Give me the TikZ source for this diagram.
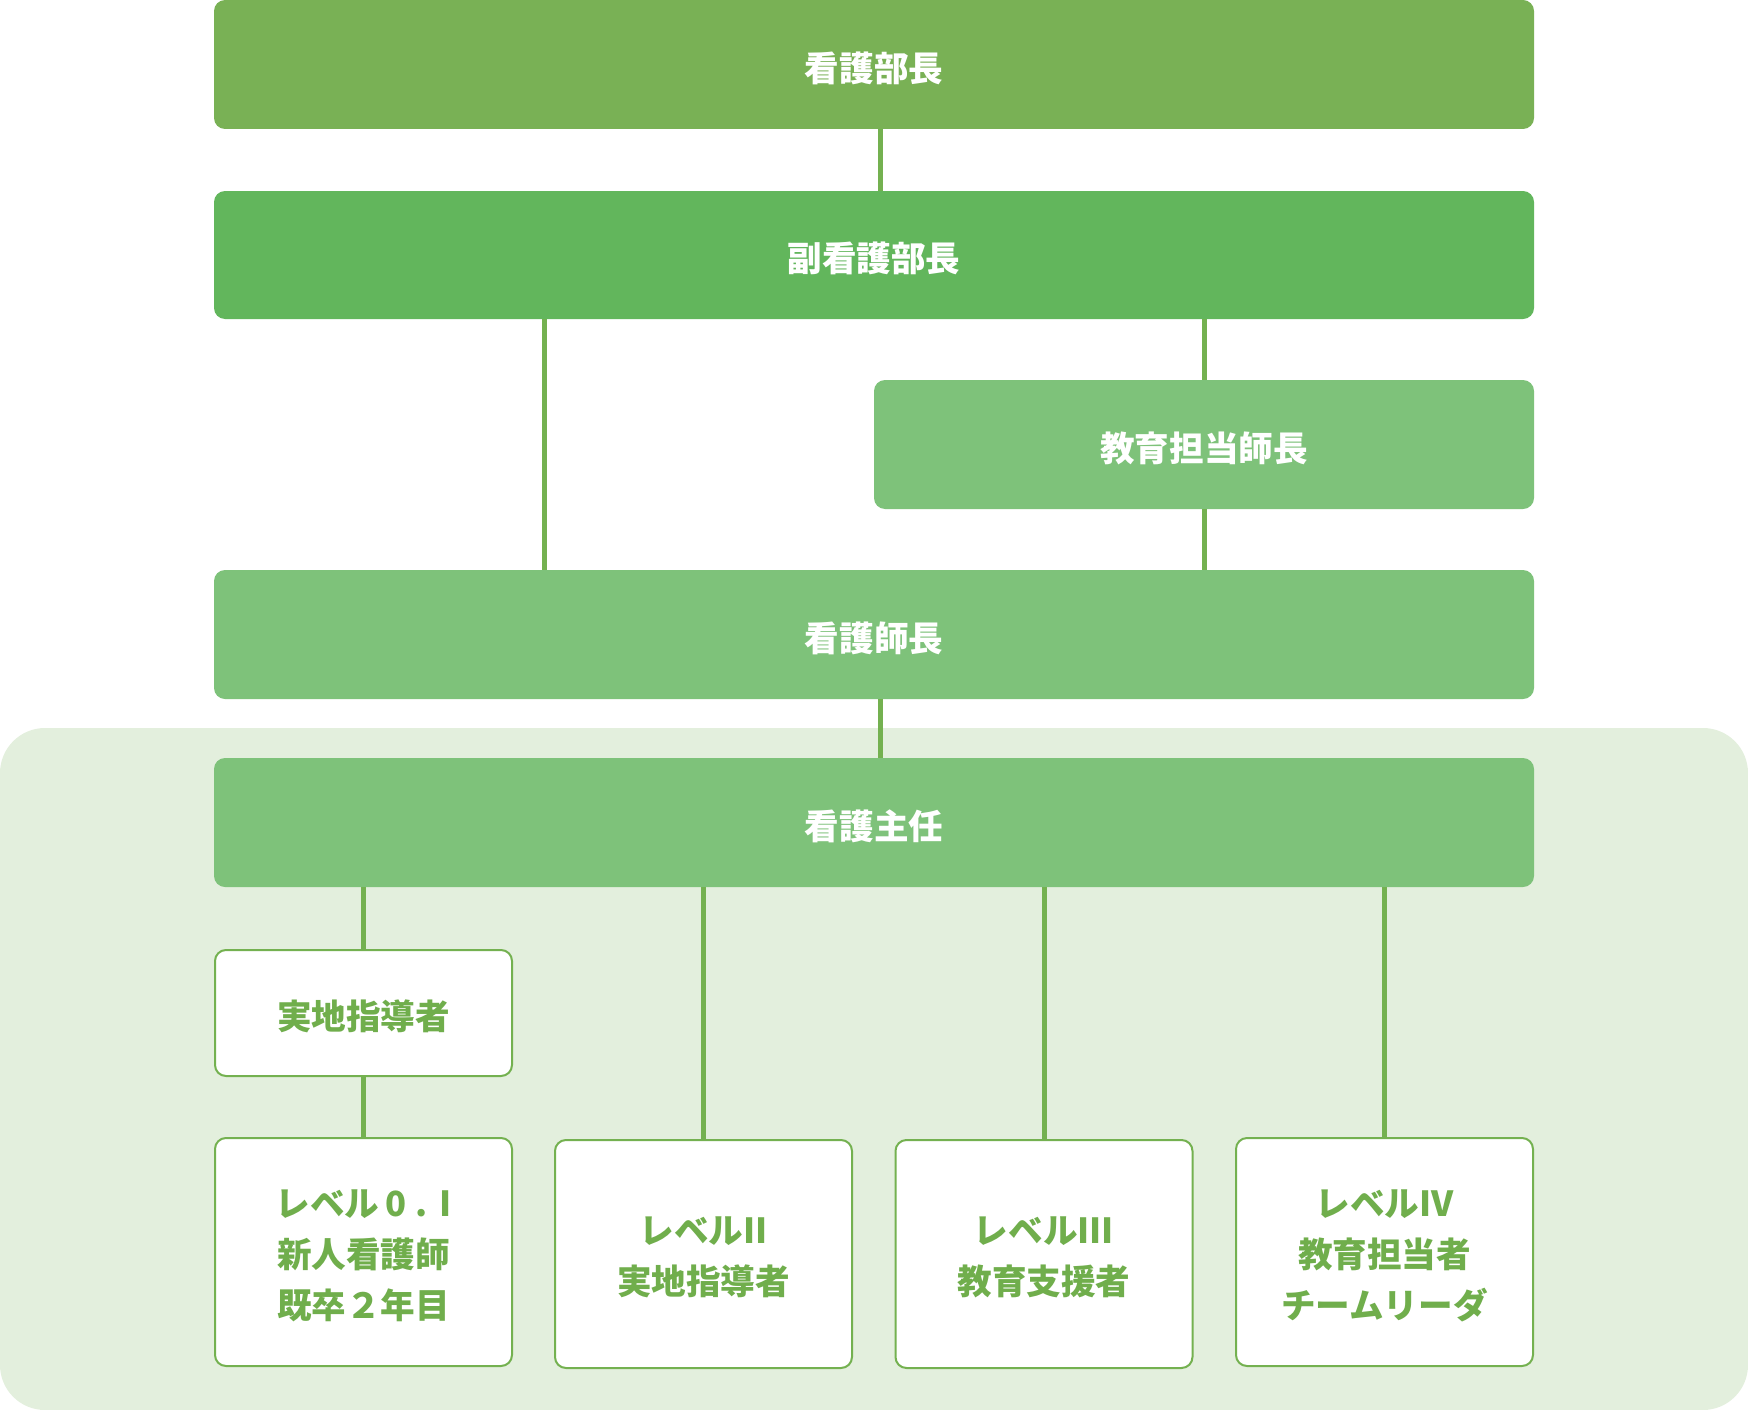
\documentclass[tikz,border=0pt]{standalone}
\usepackage{fontspec}
\newfontfamily\jp{Noto Sans CJK JP}
\newcommand{\lw}[1]{\raisebox{-3.5pt}[\height][\depth]{#1}}
\definecolor{cA}{HTML}{79B155}
\definecolor{cB}{HTML}{62B65C}
\definecolor{cC}{HTML}{7EC27A}
\definecolor{lineg}{HTML}{74B150}
\definecolor{txtg}{HTML}{70AE4C}
\definecolor{panel}{HTML}{E3EFDD}
\tikzset{
  solidbox/.style={rounded corners=11pt, inner sep=0pt, text=white,
    font=\jp\bfseries\fontsize{34.6}{51}\selectfont, minimum height=129pt},
  whitebox/.style={rounded corners=11pt, inner sep=0pt, fill=white, draw=lineg,
    line width=2pt, text=txtg, align=center,
    font=\jp\bfseries\fontsize{34.6}{51}\selectfont, minimum width=297pt},
  conn/.style={draw=lineg, line width=5pt}
}
\begin{document}
\begin{tikzpicture}[x=1pt,y=-1pt]
\useasboundingbox (0,0) rectangle (1748,1410);
\fill[panel, rounded corners=45pt] (0,728) rectangle (1748,1410);
\node[solidbox, fill=cA, minimum width=1320pt] (A) at (874,64.5) {\lw{看護部長}};
\node[solidbox, fill=cB, minimum width=1320pt, minimum height=128pt] (B) at (874,255) {\lw{副看護部長}};
\node[solidbox, fill=cC, minimum width=660pt] (C) at (1204,444.5) {\lw{教育担当師長}};
\node[solidbox, fill=cC, minimum width=1320pt] (D) at (874,634.5) {\lw{看護師長}};
\node[solidbox, fill=cC, minimum width=1320pt] (E) at (874,822.5) {\lw{看護主任}};
\node[whitebox, minimum height=126pt] (F) at (363.5,1013) {\lw{実地指導者}};
\node[whitebox, minimum height=228pt] (L1) at (363.5,1252) {\lw{レベル\hspace{6pt}0\hspace{9pt}.\hspace{12pt}I}\\\lw{新人看護師}\\\lw{既卒２年目}};
\node[whitebox, minimum height=228pt] (L2) at (703.5,1254) {\lw{レベルII}\\\lw{実地指導者}};
\node[whitebox, minimum height=228pt] (L3) at (1044,1254) {\lw{レベルIII}\\\lw{教育支援者}};
\node[whitebox, minimum height=228pt] (L4) at (1384.5,1252) {\lw{レベルIV}\\\lw{教育担当者}\\\lw{チームリーダ}};
\draw[conn] ([xshift=6pt]A.south) -- ([xshift=6pt]B.north);
\draw[conn] ([xshift=-330pt]B.south) -- ([xshift=-330pt]D.north);
\draw[conn] (C.north |- B.south) -- (C.north);
\draw[conn] (C.south) -- (C.south |- D.north);
\draw[conn] ([xshift=6pt]D.south) -- ([xshift=6pt]E.north);
\draw[conn] (F.north |- E.south) -- (F.north);
\draw[conn] (F.south) -- (L1.north);
\draw[conn] (L2.north |- E.south) -- (L2.north);
\draw[conn] (L3.north |- E.south) -- (L3.north);
\draw[conn] (L4.north |- E.south) -- (L4.north);
\end{tikzpicture}
\end{document}
